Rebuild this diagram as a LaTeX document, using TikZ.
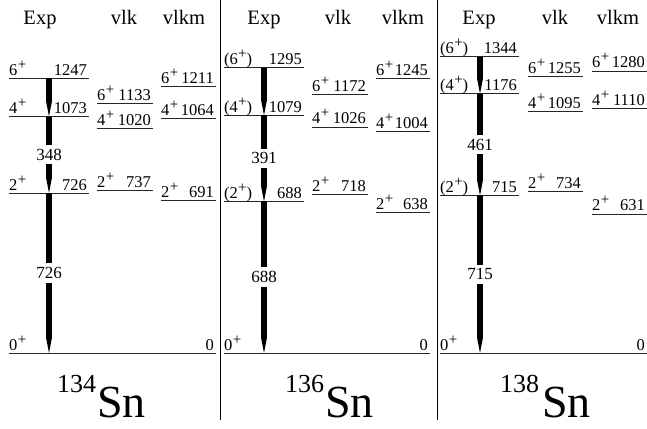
\documentclass[tikz,border=0pt]{standalone}
\usepackage{fontspec}
\setmainfont{Liberation Serif}
\usetikzlibrary{calc}
\tikzset{
  lvl/.style={line width=0.8pt, black!85},
  sep/.style={line width=0.8pt, black},
  spinlab/.style={anchor=base west, inner sep=0pt, yshift=3pt, font=\fontsize{16.5}{18}\selectfont},
  enlab/.style={anchor=base east, inner sep=0pt, xshift=-2pt, yshift=3pt, font=\fontsize{16.5}{18}\selectfont},
  head/.style={anchor=base, inner sep=0pt, font=\fontsize{20.5}{24}\selectfont},
  glab/.style={fill=white, inner xsep=0.5pt, inner ysep=4pt, font=\fontsize{17}{19}\selectfont},
  isolab/.style={anchor=base west, inner sep=0pt, font=\fontsize{26}{28}\selectfont},
  snlab/.style={anchor=base west, inner sep=0pt, font=\fontsize{46}{48}\selectfont},
}
\newcommand\lev[6]{%
  \coordinate (#1l) at (#2,#4);
  \coordinate (#1r) at (#3,#4);
  \draw[lvl] (#1l) -- (#1r);
  \node[spinlab] (#1s) at (#1l) {#5};
  \node[enlab] (#1e) at (#1r) {#6};
}
\newcommand\gam[2]{%
  \fill let \p1=(#1), \p2=(#2) in
    (\x1-2.9pt,\y1) -- (\x1+2.9pt,\y1) -- (\x1+2.9pt,\y2+15pt) -- (\x1,\y2)
    -- (\x1-2.9pt,\y2+15pt) -- cycle;
}
\newcommand\p{\kern0.3pt\raisebox{6pt}{\fontsize{15}{15}\selectfont+}}
\begin{document}
\begin{tikzpicture}[x=1pt,y=-1pt]
\useasboundingbox (0,0) rectangle (647,428);
% separators
\coordinate (s1t) at (220,0); \coordinate (s1b) at (220,420);
\coordinate (s2t) at (437,0); \coordinate (s2b) at (437,420);
\draw[sep] (s1t) -- (s1b);
\draw[sep] (s2t) -- (s2b);
% headers
\node[head] (h1a) at (40,25) {Exp};
\node[head] (h1b) at (124,25) {vlk};
\node[head] (h1c) at (184,25) {vlkm};
\node[head] (h2a) at (264,25) {Exp};
\node[head] (h2b) at (338,25) {vlk};
\node[head] (h2c) at (403,25) {vlkm};
\node[head] (h3a) at (479,25) {Exp};
\node[head] (h3b) at (555,25) {vlk};
\node[head] (h3c) at (618,25) {vlkm};
% ---- panel 1 ----
\lev{p1e6}{9}{89}{78.2}{6\p}{1247}
\lev{p1e4}{9}{89}{116.5}{4\p}{1073}
\lev{p1e2}{9}{89}{193.0}{2\p}{726}
\lev{p1g}{9}{216}{353}{0\p}{0}
\lev{p1k6}{97}{153}{103.3}{6\p}{1133}
\lev{p1k4}{97}{153}{128.2}{4\p}{1020}
\lev{p1k2}{97}{153}{190.6}{2\p}{737}
\lev{p1m6}{161}{216}{86.1}{6\p}{1211}
\lev{p1m4}{161}{216}{118.5}{4\p}{1064}
\lev{p1m2}{161}{216}{200.7}{2\p}{691}
\coordinate (a16) at (49,78.2);
\coordinate (a14) at (49,116.5);
\coordinate (a12) at (49,193.0);
\coordinate (a10) at (49,353);
\gam{a16}{a14}\gam{a14}{a12}\gam{a12}{a10}
\node[glab] (g1a) at ($(a14)!0.5!(a12)$) {348};
\node[glab] (g1b) at ($(a12)!0.5!(a10)$) {726};
\node[isolab] (i1) at (57,392) {134};
\node[snlab] (n1) at (97,417) {Sn};
% ---- panel 2 ----
\lev{p2e6}{224}{304}{67.6}{(6\p)}{1295}
\lev{p2e4}{224}{304}{115.2}{(4\p)}{1079}
\lev{p2e2}{224}{304}{201.4}{(2\p)}{688}
\lev{p2g}{224}{430}{353}{0\p}{0}
\lev{p2k6}{312}{368}{94.7}{6\p}{1172}
\lev{p2k4}{312}{368}{126.9}{4\p}{1026}
\lev{p2k2}{312}{368}{194.8}{2\p}{718}
\lev{p2m6}{376}{430}{78.6}{6\p}{1245}
\lev{p2m4}{376}{430}{131.7}{4\p}{1004}
\lev{p2m2}{376}{430}{212.4}{2\p}{638}
\coordinate (a26) at (264,67.6);
\coordinate (a24) at (264,115.2);
\coordinate (a22) at (264,201.4);
\coordinate (a20) at (264,353);
\gam{a26}{a24}\gam{a24}{a22}\gam{a22}{a20}
\node[glab] (g2a) at ($(a24)!0.5!(a22)$) {391};
\node[glab] (g2b) at ($(a22)!0.5!(a20)$) {688};
\node[isolab] (i2) at (285,392) {136};
\node[snlab] (n2) at (325,417) {Sn};
% ---- panel 3 ----
\lev{p3e6}{440}{519}{56.8}{(6\p)}{1344}
\lev{p3e4}{440}{519}{93.8}{(4\p)}{1176}
\lev{p3e2}{440}{519}{195.4}{(2\p)}{715}
\lev{p3g}{440}{647}{353}{0\p}{0}
\lev{p3k6}{528}{583}{76.4}{6\p}{1255}
\lev{p3k4}{528}{583}{111.7}{4\p}{1095}
\lev{p3k2}{528}{583}{191.2}{2\p}{734}
\lev{p3m6}{592}{647}{70.9}{6\p}{1280}
\lev{p3m4}{592}{647}{108.4}{4\p}{1110}
\lev{p3m2}{592}{647}{213.9}{2\p}{631}
\coordinate (a36) at (480,56.8);
\coordinate (a34) at (480,93.8);
\coordinate (a32) at (480,195.4);
\coordinate (a30) at (480,353);
\gam{a36}{a34}\gam{a34}{a32}\gam{a32}{a30}
\node[glab] (g3a) at ($(a34)!0.5!(a32)$) {461};
\node[glab] (g3b) at ($(a32)!0.5!(a30)$) {715};
\node[isolab] (i3) at (500,392) {138};
\node[snlab] (n3) at (542,417) {Sn};
\end{tikzpicture}
\end{document}
